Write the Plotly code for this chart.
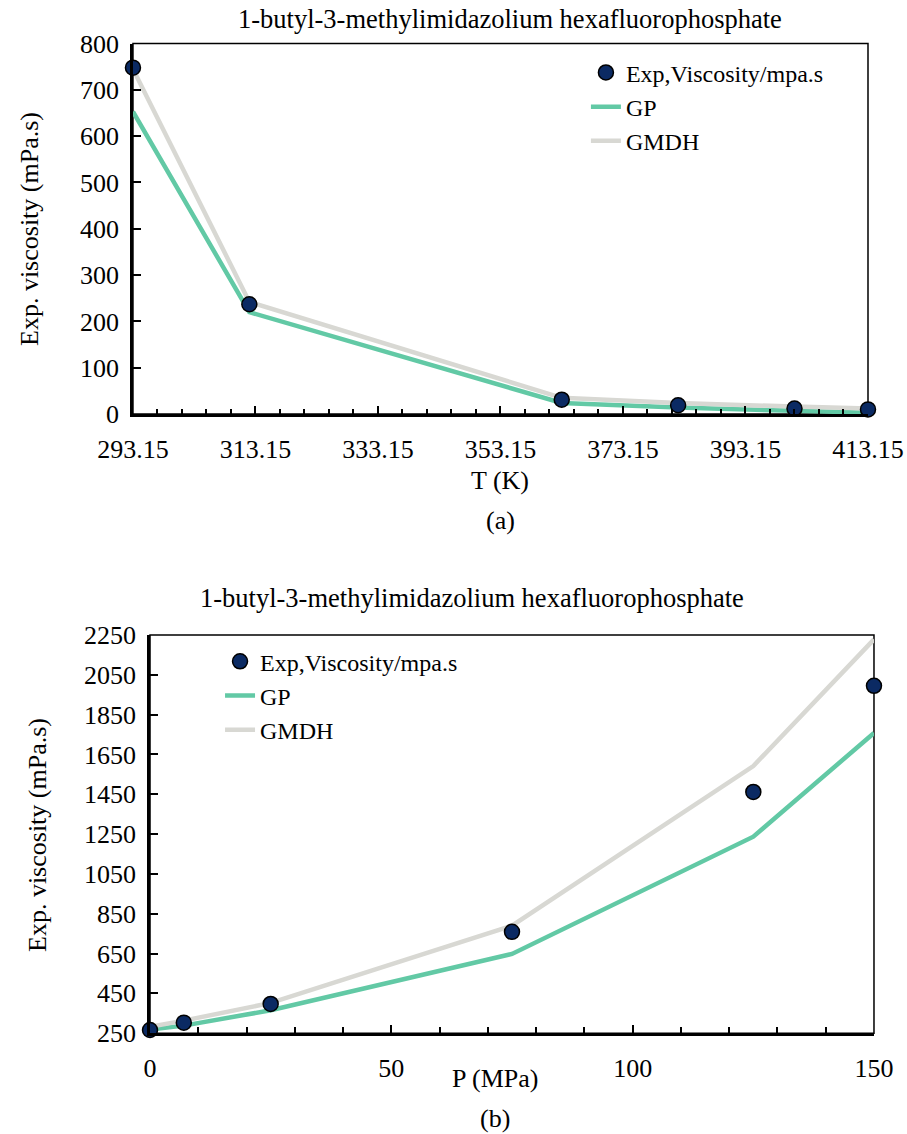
import plotly.graph_objects as go

# Panel (a): viscosity vs temperature
temp_k = [293.15, 312.15, 363.15, 382.15, 401.15, 413.15]
exp_visc_t = [748, 237, 31, 19, 12, 10]
gp_visc_t = [653, 220, 24, 14, 7, 3]
gmdh_visc_t = [745, 242, 35, 24, 16, 12]
temp_ticks = [293.15, 313.15, 333.15, 353.15, 373.15, 393.15, 413.15]
temp_tick_labels = ["293.15", "313.15", "333.15", "353.15", "373.15", "393.15", "413.15"]

# Panel (b): viscosity vs pressure
press_mpa = [0, 7, 25, 75, 125, 150]
exp_visc_p = [266, 303, 397, 759, 1462, 1995]
gp_visc_p = [268, 288, 365, 648, 1237, 1758]
gmdh_visc_p = [282, 313, 402, 790, 1592, 2228]

TITLE = "1-butyl-3-methylimidazolium hexafluorophosphate"
FONT = "Liberation Serif, Times New Roman, serif"
GP_COLOR = "#62C9A5"
GMDH_COLOR = "#D8D8D3"
MARKER_COLOR = "#0B2A63"

fig = go.Figure()


def add_series(x, exp, gp, gmdh, xa, ya, legend):
    fig.add_trace(go.Scatter(
        x=x, y=gp, mode="lines", name="GP", legendrank=2,
        line=dict(color=GP_COLOR, width=4.5),
        xaxis=xa, yaxis=ya, legend=legend))
    fig.add_trace(go.Scatter(
        x=x, y=gmdh, mode="lines", name="GMDH", legendrank=3,
        line=dict(color=GMDH_COLOR, width=4.5),
        xaxis=xa, yaxis=ya, legend=legend))
    fig.add_trace(go.Scatter(
        x=x, y=exp, mode="markers", name="Exp,Viscosity/mpa.s", legendrank=1,
        marker=dict(color=MARKER_COLOR, size=15, line=dict(color="black", width=1.5)),
        xaxis=xa, yaxis=ya, legend=legend, cliponaxis=False))


add_series(temp_k, exp_visc_t, gp_visc_t, gmdh_visc_t, "x", "y", "legend")
add_series(press_mpa, exp_visc_p, gp_visc_p, gmdh_visc_p, "x2", "y2", "legend2")

axis_common = dict(
    showgrid=False, zeroline=False, showline=True, linecolor="black", linewidth=2.5,
    ticks="inside", ticklen=8, tickwidth=2, tickcolor="black", automargin=False,
    tickfont=dict(family=FONT, size=26, color="black"),
)

fig.update_layout(
    width=907, height=1134,
    margin=dict(l=0, r=0, t=0, b=0),
    paper_bgcolor="white", plot_bgcolor="white",
    font=dict(family=FONT, color="black"),
    xaxis=dict(domain=[0.1466, 0.957], anchor="y", range=[293.15, 413.15],
               tickmode="array", tickvals=temp_ticks, ticktext=temp_tick_labels,
               minor=dict(tick0=293.15, dtick=4, ticks="inside", ticklen=5,
                          tickwidth=2, tickcolor="black"),
               ticklabelstandoff=10, **axis_common),
    yaxis=dict(domain=[0.6349, 0.9616], anchor="x", range=[0, 800],
               tick0=0, dtick=100, ticklabelstandoff=6, **axis_common),
    xaxis2=dict(domain=[0.1654, 0.9636], anchor="y2", range=[0, 150],
                tick0=0, dtick=50,
                minor=dict(tick0=0, dtick=10, ticks="inside", ticklen=6,
                           tickwidth=2, tickcolor="black"),
                ticklabelstandoff=10, **axis_common),
    yaxis2=dict(domain=[0.0889, 0.44], anchor="x2", range=[250, 2250],
                tick0=250, dtick=200, ticklabelstandoff=6, **axis_common),
    legend=dict(x=0.646, y=0.9556, xanchor="left", yanchor="top",
                bgcolor="rgba(0,0,0,0)", font=dict(family=FONT, size=24),
                tracegroupgap=0),
    legend2=dict(x=0.2426, y=0.4363, xanchor="left", yanchor="top",
                 bgcolor="rgba(0,0,0,0)", font=dict(family=FONT, size=24),
                 tracegroupgap=0),
    showlegend=True,
)

# thin frame on the top and right of each plot area
for xr, yr in (("x domain", "y domain"), ("x2 domain", "y2 domain")):
    fig.add_shape(type="rect", xref=xr, yref=yr, x0=0, x1=1, y0=0, y1=1,
                  line=dict(color="black", width=1.5), layer="below")


def text(x, y, s, size=26, angle=0):
    fig.add_annotation(x=x / 907, y=1 - y / 1134, xref="paper", yref="paper",
                       text=s, showarrow=False, textangle=angle,
                       font=dict(family=FONT, size=size, color="black"),
                       xanchor="center", yanchor="middle")


text(510, 19, TITLE, size=26.5)
text(500, 481, "T (K)")
text(500, 521, "(a)")
text(30, 229, "Exp. viscosity (mPa.s)", angle=-90)

text(472, 598, TITLE, size=26.5)
text(495, 1078, "P (MPa)")
text(495, 1118, "(b)")
text(37, 835, "Exp. viscosity (mPa.s)", angle=-90)

fig.write_html("out.html")
